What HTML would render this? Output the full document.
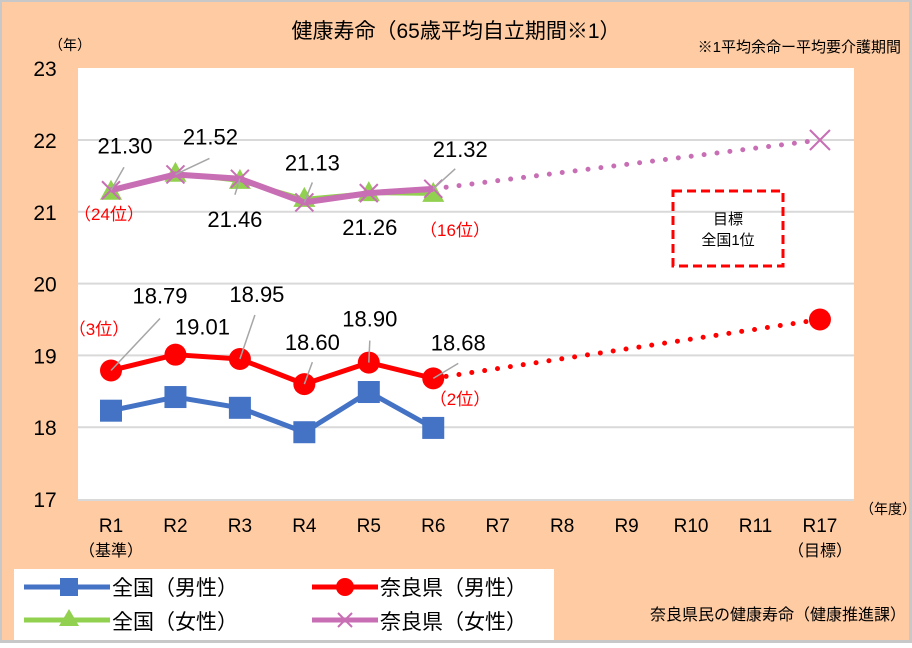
<!DOCTYPE html>
<html><head><meta charset="utf-8"><style>
body{margin:0;background:#fff}
svg text{font-family:"Liberation Sans","Noto Sans CJK JP",sans-serif}
</style></head><body>
<svg id="c" width="912" height="643" viewBox="0 0 912 643" xmlns="http://www.w3.org/2000/svg">
<rect x="0" y="0" width="912" height="643" fill="#c8c8c8"/>
<rect x="2" y="2" width="907" height="638" fill="#fecba3"/>
<rect x="78" y="68" width="776" height="432" fill="#fff"/>
<line x1="78" y1="500" x2="854" y2="500" stroke="#d9d9d9" stroke-width="2"/>
<text x="456" y="38" font-size="21" text-anchor="middle" fill="#000">健康寿命（65歳平均自立期間※1）</text>
<text x="901" y="52" font-size="15" text-anchor="end">※1平均余命ー平均要介護期間</text>
<text x="70" y="50" font-size="14" text-anchor="middle">（年）</text>
<text x="860" y="514" font-size="14">（年度）</text>
<g id="grid"></g><g id="yt"></g><g id="xt"></g><g id="series"></g><g id="labels"></g>
<g>
<rect x="673" y="191" width="110" height="75" fill="none" stroke="#f00" stroke-width="3" stroke-dasharray="9,5"/>
<text x="728" y="224" font-size="15" text-anchor="middle">目標</text>
<text x="728" y="245" font-size="15" text-anchor="middle">全国1位</text>
</g>
<g>
<rect x="14" y="569" width="540" height="71" fill="#fff"/>
<line x1="24" y1="587" x2="110" y2="587" stroke="#4472c4" stroke-width="5"/><rect x="60" y="578" width="18" height="18" fill="#4472c4"/>
<text x="112" y="595" font-size="21">全国（男性）</text>
<line x1="24" y1="620" x2="110" y2="620" stroke="#92d050" stroke-width="5"/><polygon points="69,609 79,626 59,626" fill="#92d050"/>
<text x="112" y="629" font-size="21">全国（女性）</text>
<line x1="312" y1="587" x2="378" y2="587" stroke="#f00" stroke-width="5"/><circle cx="345" cy="587" r="9" fill="#f00"/>
<text x="380" y="595" font-size="21">奈良県（男性）</text>
<line x1="312" y1="620" x2="378" y2="620" stroke="#c86eb4" stroke-width="5"/><path d="M338,613L352,627M352,613L338,627" stroke="#c86eb4" stroke-width="2"/>
<text x="380" y="629" font-size="21">奈良県（女性）</text>
</g>
<text x="906" y="620" font-size="16" text-anchor="end">奈良県民の健康寿命（健康推進課）</text>
</svg>
<script>
const categories=["R1","R2","R3","R4","R5","R6","R7","R8","R9","R10","R11","R17"];
const yTicks=[17,18,19,20,21,22,23];
const nationalMale=[18.23,18.42,18.27,17.93,18.49,17.99];
const nationalFemale=[21.28,21.53,21.43,21.18,21.26,21.25];
const naraMale=[18.79,19.01,18.95,18.60,18.90,18.68];
const naraFemale=[21.30,21.52,21.46,21.13,21.26,21.32];
const naraMaleTarget=19.5;
const naraFemaleTarget=22.0;
const NS="http://www.w3.org/2000/svg";
const X=i=>111+i*64.45;
const Y=v=>499-(v-17)*71.8;
function mk(t,a,p){const e=document.createElementNS(NS,t);for(const k in a)e.setAttribute(k,a[k]);if(p)document.getElementById(p).appendChild(e);return e;}
yTicks.forEach(v=>{
 if(v>17&&v<23){const l=mk('line',{x1:78,x2:854,y1:Y(v),y2:Y(v),stroke:'#d9d9d9','stroke-width':2},'grid');
 
 }
 const t=mk('text',{x:45,y:Y(v)+8,'font-size':21,'text-anchor':'middle'},'yt');t.textContent=v;
 
 
});
categories.forEach((c,i)=>{
 const t=mk('text',{x:X(i),y:532,'font-size':19,'text-anchor':'middle'},'xt');t.textContent=c;
 
 
});
[["（基準）",0],["（目標）",11]].forEach(([s,i])=>{const t=mk('text',{x:X(i),y:556,'font-size':16,'text-anchor':'middle'},'xt');t.textContent=s;
 
 });
function pts(a){return a.map((v,i)=>X(i)+','+Y(v)).join(' ');}
function line(a,col,w,name){const p=mk('polyline',{points:pts(a),fill:'none',stroke:col,'stroke-width':w,'stroke-linejoin':'round'},'series');
 
 }
function dots(v0,v1,col,name){const p=mk('line',{x1:X(5),y1:Y(v0),x2:X(11),y2:Y(v1),stroke:col,'stroke-width':5,'stroke-dasharray':'0,13','stroke-linecap':'round'},'series');
 
 }
dots(naraFemale[5],naraFemaleTarget,'#c86eb4','nara-female-projection');
dots(naraMale[5],naraMaleTarget,'#f00','nara-male-projection');
line(nationalMale,'#4472c4',5,'national-male-line');
nationalMale.forEach((v,i)=>{const r=mk('rect',{x:X(i)-11,y:Y(v)-11,width:22,height:22,fill:'#4472c4'},'series');
 
 });
line(naraMale,'#f00',5,'nara-male-line');
naraMale.forEach((v,i)=>{const c=mk('circle',{cx:X(i),cy:Y(v),r:11,fill:'#f00'},'series');
 
 });
const tc=mk('circle',{cx:X(11),cy:Y(naraMaleTarget),r:11,fill:'#f00'},'series');


line(nationalFemale,'#92d050',4,'national-female-line');
nationalFemale.forEach((v,i)=>{const y=Y(v);const p=mk('polygon',{points:`${X(i)},${y-12} ${X(i)+11},${y+8} ${X(i)-11},${y+8}`,fill:'#92d050'},'series');
 
 });
line(naraFemale,'#c86eb4',6,'nara-female-line');
function cross(x,y,s,name){const p=mk('path',{d:`M${x-s},${y-s}L${x+s},${y+s}M${x+s},${y-s}L${x-s},${y+s}`,stroke:'#c86eb4','stroke-width':2},'series');
 
 }
naraFemale.forEach((v,i)=>cross(X(i),Y(v),9,'nara-female-point'));
cross(X(11),Y(naraFemaleTarget),10,'nara-female-target');
// label offsets relative to point: text (dx,dy), leader end (lx,ly) or null
const femOff=[[14,-37,13,-23],[35,-30,34,-16],[-5,48,-5,16],[8,-32,8,-20],[1,42,null],[27,-32,22,-20]];
const maleOff=[[49,-67,49,-52],[27,-20,null],[17,-57,15,-44],[8,-34,8,-22],[1,-36,1,-22],[25,-28,25,-15]];
function label(a,off,name){a.forEach((v,i)=>{const x=X(i),y=Y(v);const o=off[i];
 if(o[2]!==null){const ln=mk('line',{x1:x,y1:y,x2:x+o[2],y2:y+o[3],stroke:'#a6a6a6','stroke-width':1.5},'labels');
 
 }
 const t=mk('text',{x:x+o[0],y:y+o[1],'font-size':22,'text-anchor':'middle'},'labels');t.textContent=v.toFixed(2);
 
 });}
label(naraFemale,femOff,'nara-female-value');
label(naraMale,maleOff,'nara-male-value');
[["（24位）",109,220],["（16位）",455,236],["（3位）",99,335],["（2位）",460,405]].forEach(([s,x,y])=>{const t=mk('text',{x:x,y:y,'font-size':17,'text-anchor':'middle',fill:'#f00'},'labels');t.textContent=s;
 
 });
</script>
</body></html>
